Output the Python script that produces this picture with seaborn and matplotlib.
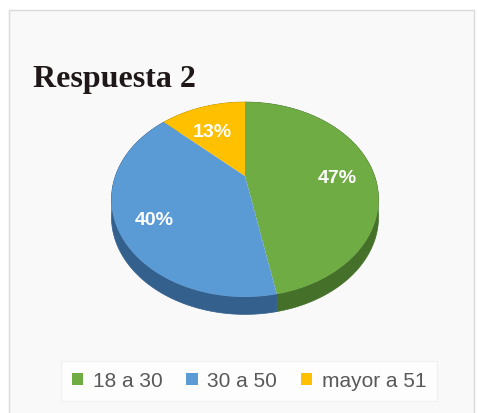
import numpy as np
import matplotlib
matplotlib.use("Agg")
import matplotlib.pyplot as plt
import seaborn as sns
from matplotlib.patches import Polygon, Patch, Rectangle

# Age groups and their share of answers (%)
categories = ["18 a 30", "30 a 50", "mayor a 51"]
shares = [47, 40, 13]
face_colors = ["#6FAC44", "#5B9BD5", "#FFC000"]
side_colors = ["#44702a", "#33608c", "#b38600"]
title = "Respuesta 2"

sns.set_theme(style="white")
plt.rcParams["font.family"] = ["Liberation Sans", "DejaVu Sans"]

W, H = 478, 414
fig = plt.figure(figsize=(W / 100, H / 100), dpi=100)
fig.patch.set_facecolor("white")
fig.patches.append(Rectangle((9 / W, -0.02), 465 / W, (H - 11) / H + 0.02,
                             transform=fig.transFigure, facecolor="#f9f9f9",
                             edgecolor="#dadada", lw=1, zorder=-5))

ax = fig.add_axes([0, 0, 1, 1])
ax.set_facecolor("none")
ax.axis("off")

wedges, texts, autotexts = ax.pie(
    shares, colors=face_colors, startangle=90, counterclock=False,
    autopct="%1.0f%%", pctdistance=0.73, radius=1.0,
)

# perspective tilt of the disc: back edge shrinks, front edge grows
K, C, DEPTH = 0.241, 0.708, 0.135
LABEL_DROP = 0.062


def tilt(x, y):
    d = 1 + K * y
    return x / d, C * y / d


for w, side_c in zip(wedges, side_colors):
    th = np.radians(np.linspace(w.theta1, w.theta2, 160))
    cx, cy = w.center
    xs, ys = tilt(cx + w.r * np.cos(th), cy + w.r * np.sin(th))
    x0, y0 = tilt(cx, cy)
    side = np.column_stack([np.r_[xs, xs[::-1]], np.r_[ys, ys[::-1] - DEPTH]])
    ax.add_patch(Polygon(side, closed=True, facecolor=side_c, edgecolor=side_c,
                         lw=0.5, zorder=1))
    top = np.column_stack([np.r_[x0, xs], np.r_[y0, ys]])
    ax.add_patch(Polygon(top, closed=True, facecolor=w.get_facecolor(),
                         edgecolor="none", zorder=2))
    w.set_visible(False)

for t in autotexts:
    px, py = t.get_position()
    tx, ty = tilt(px, py)
    t.set_position((tx, ty - LABEL_DROP))
    t.set_color("white")
    t.set_fontsize(14)
    t.set_fontweight("bold")
    t.set_zorder(3)

S = 129.6
cx_px, cy_px = 245, 177
ax.set_xlim(-cx_px / S, (W - cx_px) / S)
ax.set_ylim(-(H - cy_px) / S, cy_px / S)
ax.set_aspect("auto")

fig.text(33 / W, 1 - 87 / H, title, fontsize=23, fontweight="bold",
         family=["Liberation Serif", "DejaVu Serif"], color="#201818",
         ha="left", va="baseline")

handles = [Patch(facecolor=c, edgecolor="none") for c in face_colors]
leg = fig.legend(handles, categories, loc="center",
                 bbox_to_anchor=(249 / W, 1 - 382 / H), ncol=3, frameon=True,
                 fontsize=15, handlelength=0.55, handleheight=0.55,
                 handletextpad=0.45, columnspacing=1.15, borderpad=0.5,
                 labelcolor="#595959", fancybox=False)
leg.get_frame().set_facecolor("white")
leg.get_frame().set_edgecolor("#f0f0f0")

fig.savefig("out.png", dpi=100)
